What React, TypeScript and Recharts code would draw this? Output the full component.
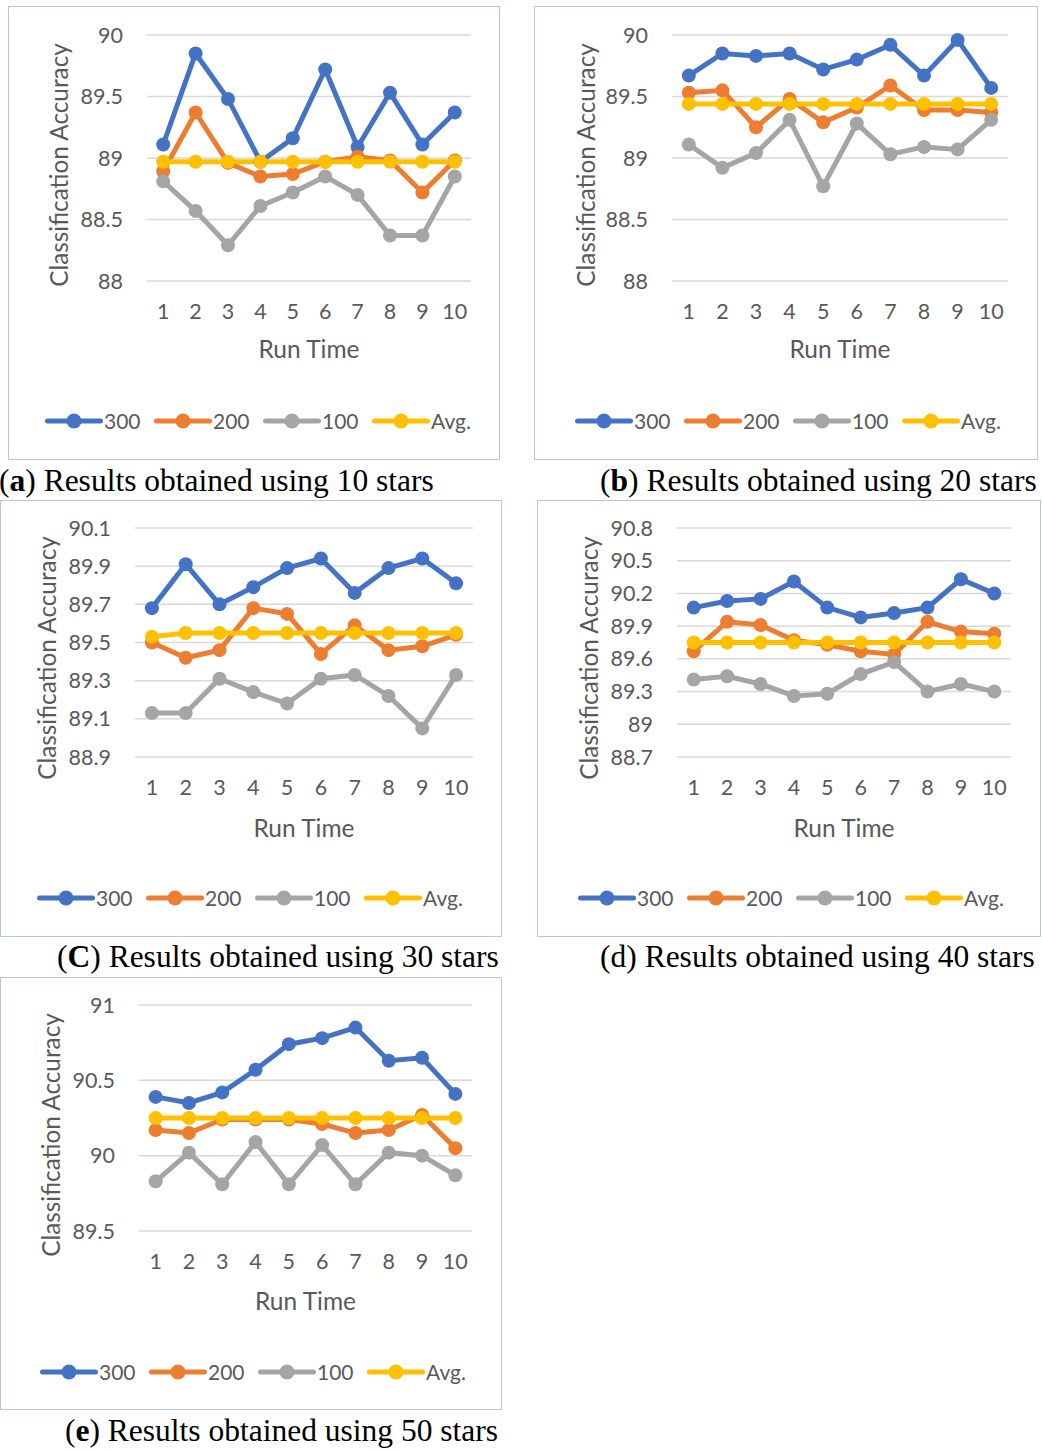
import React from 'react';
import { LineChart, Line, XAxis, YAxis, CartesianGrid } from 'recharts';

// ---------- data ----------
const runs = ['1', '2', '3', '4', '5', '6', '7', '8', '9', '10'];
const seriesNames = ['300', '200', '100', 'Avg.'];
const seriesColors = ['#4472C4', '#ED7D31', '#A5A5A5', '#FFC000'];

// (a) 10 stars
const a300 = [89.11, 89.85, 89.48, 88.97, 89.16, 89.72, 89.09, 89.53, 89.11, 89.37];
const a200 = [88.89, 89.37, 88.96, 88.85, 88.87, 88.97, 89.01, 88.98, 88.72, 88.98];
const a100 = [88.81, 88.57, 88.29, 88.61, 88.72, 88.85, 88.7, 88.37, 88.37, 88.85];
const aAvg = [88.97, 88.97, 88.97, 88.97, 88.97, 88.97, 88.97, 88.97, 88.97, 88.97];
const aTicks = [88, 88.5, 89, 89.5, 90];

// (b) 20 stars
const b300 = [89.67, 89.85, 89.83, 89.85, 89.72, 89.8, 89.92, 89.67, 89.96, 89.57];
const b200 = [89.53, 89.55, 89.25, 89.48, 89.29, 89.41, 89.59, 89.39, 89.39, 89.37];
const b100 = [89.11, 88.92, 89.04, 89.31, 88.77, 89.28, 89.03, 89.09, 89.07, 89.31];
const bAvg = [89.44, 89.44, 89.44, 89.44, 89.44, 89.44, 89.44, 89.44, 89.44, 89.44];
const bTicks = [88, 88.5, 89, 89.5, 90];

// (c) 30 stars
const c300 = [89.68, 89.91, 89.7, 89.79, 89.89, 89.94, 89.76, 89.89, 89.94, 89.81];
const c200 = [89.5, 89.42, 89.46, 89.68, 89.65, 89.44, 89.59, 89.46, 89.48, 89.54];
const c100 = [89.13, 89.13, 89.31, 89.24, 89.18, 89.31, 89.33, 89.22, 89.05, 89.33];
const cAvg = [89.53, 89.55, 89.55, 89.55, 89.55, 89.55, 89.55, 89.55, 89.55, 89.55];
const cTicks = [88.9, 89.1, 89.3, 89.5, 89.7, 89.9, 90.1];

// (d) 40 stars
const d300 = [90.07, 90.13, 90.15, 90.31, 90.07, 89.98, 90.02, 90.07, 90.33, 90.2];
const d200 = [89.67, 89.94, 89.91, 89.77, 89.73, 89.67, 89.64, 89.94, 89.85, 89.83];
const d100 = [89.41, 89.44, 89.37, 89.26, 89.28, 89.46, 89.57, 89.3, 89.37, 89.3];
const dAvg = [89.75, 89.75, 89.75, 89.75, 89.75, 89.75, 89.75, 89.75, 89.75, 89.75];
const dTicks = [88.7, 89, 89.3, 89.6, 89.9, 90.2, 90.5, 90.8];

// (e) 50 stars
const e300 = [90.39, 90.35, 90.42, 90.57, 90.74, 90.78, 90.85, 90.63, 90.65, 90.41];
const e200 = [90.17, 90.15, 90.24, 90.24, 90.24, 90.21, 90.15, 90.17, 90.27, 90.05];
const e100 = [89.83, 90.02, 89.81, 90.09, 89.81, 90.07, 89.81, 90.02, 90.0, 89.87];
const eAvg = [90.25, 90.25, 90.25, 90.25, 90.25, 90.25, 90.25, 90.25, 90.25, 90.25];
const eTicks = [89.5, 90, 90.5, 91];

// ---------- helpers ----------
const TEXT = '#595959';
const SANS = 'Lato, "Open Sans", sans-serif';
const SERIF = '"Liberation Serif", "Times New Roman", serif';

function buildRows(values: number[][]) {
  return runs.map((r, i) => {
    const row: Record<string, string | number> = { run: r };
    values.forEach((v, k) => {
      row['s' + k] = v[i];
    });
    return row;
  });
}

type PanelProps = {
  left: number;
  top: number;
  w: number;
  h: number;
  plotLeft: number;
  plotTop: number;
  plotW: number;
  plotH: number;
  values: number[][];
  ticks: number[];
  yLabelX: number;
  yLabelY: number;
  xLabelDy: number;
  legendX: number;
  legendY: number;
};

function Panel(p: PanelProps) {
  const data = buildRows(p.values);
  const xAxisH = p.h - p.plotTop - p.plotH - 2;
  const margin = {
    top: p.plotTop,
    left: 0,
    right: p.w - p.plotLeft - p.plotW,
    bottom: 2,
  };
  return (
    <div
      style={{
        position: 'absolute',
        left: p.left,
        top: p.top,
        width: p.w,
        height: p.h,
        outline: '1.5px solid #b4c6e7',
        outlineOffset: -1.5,
        background: '#fff',
      }}
    >
      <LineChart width={p.w} height={p.h} data={data} margin={margin}>
        <CartesianGrid vertical={false} stroke="#d9d9d9" strokeWidth={1.5} />
        <XAxis
          dataKey="run"
          scale="band"
          interval={0}
          axisLine={false}
          tickLine={false}
          tickSize={0}
          tickMargin={23}
          height={xAxisH}
          tick={{ fill: TEXT, fontSize: 21.5, fontFamily: SANS }}
          label={{
            content: (props: any) => {
              const vb = props.viewBox || {};
              return (
                <text
                  x={vb.x + vb.width / 2}
                  y={vb.y + p.xLabelDy}
                  textAnchor="middle"
                  fill={TEXT}
                  fontSize={24.5}
                  fontFamily={SANS}
                >
                  Run Time
                </text>
              );
            },
          }}
        />
        <YAxis
          type="number"
          domain={[p.ticks[0], p.ticks[p.ticks.length - 1]]}
          ticks={p.ticks}
          interval={0}
          width={p.plotLeft}
          axisLine={false}
          tickLine={false}
          tickSize={0}
          tickMargin={24}
          tick={{ fill: TEXT, fontSize: 21.5, fontFamily: SANS }}
          label={{
            content: () => (
              <text
                x={p.yLabelX}
                y={p.yLabelY}
                transform={`rotate(-90 ${p.yLabelX} ${p.yLabelY})`}
                textAnchor="middle"
                dominantBaseline="central"
                fill={TEXT}
                fontSize={24.3}
                fontFamily={SANS}
              >
                Classification Accuracy
              </text>
            ),
          }}
        />
        {seriesNames.map((name, k) => (
          <Line
            key={name}
            dataKey={'s' + k}
            name={name}
            stroke={seriesColors[k]}
            strokeWidth={5}
            dot={{ r: 7, fill: seriesColors[k], stroke: seriesColors[k], strokeWidth: 0 }}
            activeDot={false}
            isAnimationActive={false}
          />
        ))}
      </LineChart>
      <div
        style={{
          position: 'absolute',
          left: p.legendX,
          top: p.legendY - 14,
          height: 28,
          display: 'flex',
          alignItems: 'center',
          fontFamily: SANS,
        }}
      >
        {seriesNames.map((name, k) => (
          <div key={name} style={{ width: 109, display: 'flex', alignItems: 'center' }}>
            <svg width={58} height={18} style={{ display: 'block' }}>
              <line x1={2.5} y1={9} x2={55.5} y2={9} stroke={seriesColors[k]} strokeWidth={5} strokeLinecap="round" />
              <circle cx={29} cy={9} r={7.5} fill={seriesColors[k]} />
            </svg>
            <span style={{ fontSize: 21, color: TEXT, marginLeft: 1, lineHeight: '28px' }}>{name}</span>
          </div>
        ))}
      </div>
    </div>
  );
}

function Caption({ left, baseline, letter, bold, rest }: { left: number; baseline: number; letter: string; bold: boolean; rest: string }) {
  const fs = 31.5;
  return (
    <div
      style={{
        position: 'absolute',
        left,
        top: baseline - 0.8375 * fs,
        fontFamily: SERIF,
        fontSize: fs,
        lineHeight: `${fs}px`,
        whiteSpace: 'nowrap',
        color: '#000',
      }}
    >
      (<span style={{ fontWeight: bold ? 'bold' : 'normal' }}>{letter}</span>) {rest}
    </div>
  );
}

export default function App() {
  return (
    <div style={{ position: 'absolute', left: 0, top: 0, width: 1042, height: 1450, background: '#fff', overflow: 'hidden' }}>
      <Panel
        left={8} top={6} w={492} h={454}
        plotLeft={139} plotTop={29} plotW={324} plotH={246}
        values={[a300, a200, a100, aAvg]} ticks={aTicks}
        yLabelX={50} yLabelY={159} xLabelDy={77}
        legendX={37} legendY={415}
      />
      <Panel
        left={534} top={6} w={504} h={454}
        plotLeft={138} plotTop={29} plotW={336} plotH={246}
        values={[b300, b200, b100, bAvg]} ticks={bTicks}
        yLabelX={51} yLabelY={159} xLabelDy={77}
        legendX={41} legendY={415}
      />
      <Panel
        left={0} top={500} w={502} h={437}
        plotLeft={135} plotTop={28} plotW={338} plotH={229}
        values={[c300, c200, c100, cAvg]} ticks={cTicks}
        yLabelX={46} yLabelY={158} xLabelDy={80}
        legendX={37} legendY={398}
      />
      <Panel
        left={537} top={500} w={504} h={437}
        plotLeft={140} plotTop={28} plotW={334} plotH={229}
        values={[d300, d200, d100, dAvg]} ticks={dTicks}
        yLabelX={51} yLabelY={158} xLabelDy={80}
        legendX={41} legendY={398}
      />
      <Panel
        left={0} top={977} w={502} h={433}
        plotLeft={139} plotTop={28} plotW={333} plotH={226}
        values={[e300, e200, e100, eAvg]} ticks={eTicks}
        yLabelX={50} yLabelY={158} xLabelDy={79}
        legendX={40} legendY={395}
      />
      <Caption left={-1} baseline={491} letter="a" bold rest="Results obtained using 10 stars" />
      <Caption left={600} baseline={491} letter="b" bold rest="Results obtained using 20 stars" />
      <Caption left={57} baseline={967} letter="C" bold rest="Results obtained using 30 stars" />
      <Caption left={600} baseline={967} letter="d" bold={false} rest="Results obtained using 40 stars" />
      <Caption left={65} baseline={1441} letter="e" bold rest="Results obtained using 50 stars" />
    </div>
  );
}
